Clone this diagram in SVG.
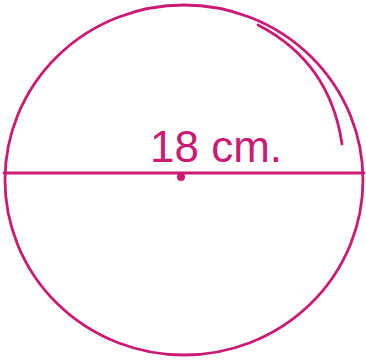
<svg xmlns="http://www.w3.org/2000/svg" width="366" height="360" viewBox="0 0 366 360">
<style>
.ink{fill:none;stroke:#cc1a72;stroke-width:2.8;stroke-linecap:round}
.lbl{font-family:"Liberation Sans",Arial,sans-serif;font-size:44px;fill:#cc1a72}
</style>
<rect width="366" height="360" fill="#ffffff"/>
<g id="circle">
<ellipse class="ink" cx="184" cy="180" rx="179" ry="175"/>
</g>
<g id="connectors">
<line class="ink" x1="4" y1="173" x2="364" y2="173"/>
<path class="ink" d="M 258 25 Q 330 62 342 144"/>
</g>
<g id="center">
<circle cx="181" cy="177" r="4" fill="#cc1a72"/>
</g>
<g id="label">
<text class="lbl" x="150" y="162">18 cm.</text>
</g>
</svg>
